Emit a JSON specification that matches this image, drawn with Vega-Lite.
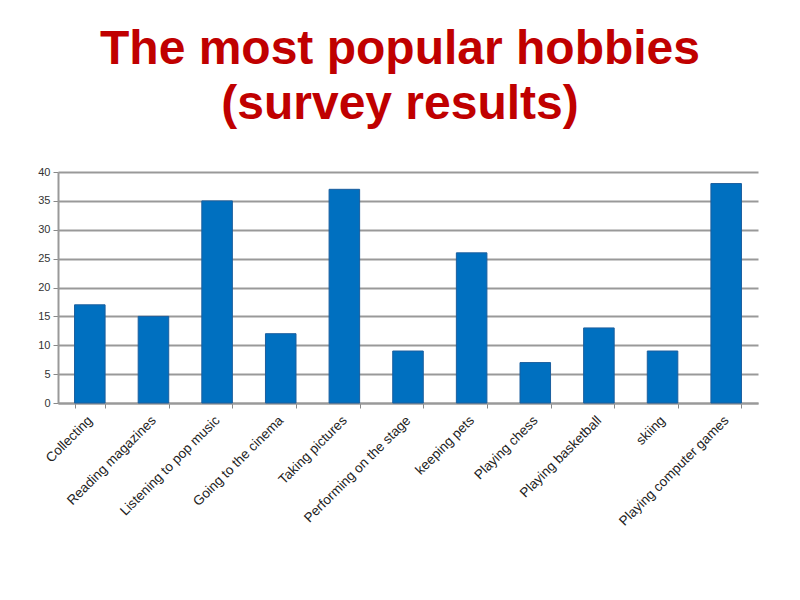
{
  "$schema": "https://vega.github.io/schema/vega-lite/v6.json",
  "width": 700,
  "height": 231,
  "autosize": {"type": "none"},
  "padding": {"left": 58, "top": 172, "right": 42, "bottom": 197},
  "background": "white",
  "title": {
    "text": ["The most popular hobbies", "(survey results)"],
    "font": "Liberation Sans",
    "fontSize": 48,
    "fontWeight": "bold",
    "color": "#C00000",
    "lineHeight": 55,
    "anchor": "middle",
    "frame": "group",
    "dx": -8,
    "offset": 37
  },
  "data": {
    "values": [
      {"hobby": "Collecting", "value": 17},
      {"hobby": "Reading magazines", "value": 15},
      {"hobby": "Listening to pop music", "value": 35},
      {"hobby": "Going to the cinema", "value": 12},
      {"hobby": "Taking pictures", "value": 37},
      {"hobby": "Performing on the stage", "value": 9},
      {"hobby": "keeping pets", "value": 26},
      {"hobby": "Playing chess", "value": 7},
      {"hobby": "Playing basketball", "value": 13},
      {"hobby": "skiing", "value": 9},
      {"hobby": "Playing computer games", "value": 38}
    ]
  },
  "mark": {"type": "bar", "color": "#0070C0", "stroke": "#1A5E9E", "strokeWidth": 1},
  "encoding": {
    "x": {
      "field": "hobby",
      "type": "nominal",
      "sort": null,
      "scale": {"paddingInner": 0.52, "paddingOuter": 0.26},
      "axis": {
        "title": null,
        "labelAngle": -45,
        "labelAlign": "right",
        "labelBaseline": "middle",
        "labelFont": "Liberation Sans",
        "labelFontSize": 13.5,
        "labelColor": "#222",
        "labelPadding": 10,
        "tickBand": "extent",
        "tickSize": 5,
        "tickColor": "#888",
        "domainColor": "#999",
        "domainWidth": 2,
        "grid": false
      }
    },
    "y": {
      "field": "value",
      "type": "quantitative",
      "scale": {"domain": [0, 40], "nice": false},
      "axis": {
        "title": null,
        "values": [0, 5, 10, 15, 20, 25, 30, 35, 40],
        "labelFont": "Liberation Sans",
        "labelFontSize": 11,
        "labelColor": "#333",
        "labelPadding": 3,
        "tickSize": 5,
        "tickColor": "#888",
        "domainColor": "#999",
        "domainWidth": 2,
        "gridColor": "#999",
        "gridWidth": 2,
        "gridOpacity": 1
      }
    }
  },
  "config": {"view": {"stroke": null}}
}
